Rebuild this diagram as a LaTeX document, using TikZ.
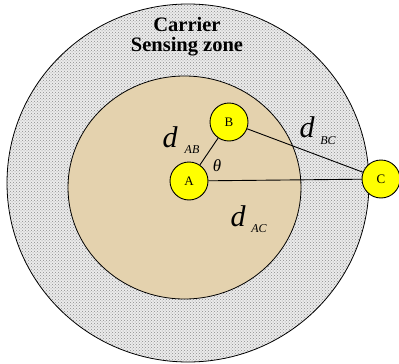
\documentclass[tikz,border=0pt]{standalone}
\usepackage{fontspec}
\setmainfont{Liberation Serif}
\usetikzlibrary{patterns}
\definecolor{sand}{RGB}{228,210,174}
\definecolor{nodey}{RGB}{255,255,0}
\tikzset{
  station/.style={circle, draw=black, line width=0.9pt, fill=nodey, minimum size=38pt, inner sep=0pt, font=\fontsize{13}{13}\selectfont},
  link/.style={draw=black, line width=0.9pt},
  dlab/.style={font=\fontsize{30}{30}\selectfont\itshape, inner sep=0pt},
  sublab/.style={font=\fontsize{12}{12}\selectfont\itshape, inner sep=0pt},
  zone/.style={font=\fontsize{20.5}{22}\selectfont\bfseries, align=center, inner sep=0pt}
}
\begin{document}
\begin{tikzpicture}[x=1pt,y=-1pt]
\useasboundingbox (0,0) rectangle (399,364);
% outer carrier sensing zone
\fill[black!8] (188,183) ellipse [x radius=181, y radius=179];
\fill[pattern=crosshatch dots, pattern color=black!45] (188,183) ellipse [x radius=181, y radius=179];
\draw[line width=0.8pt] (188,183) ellipse [x radius=181, y radius=179];
% inner zone
\fill[sand] (184.5,187.5) ellipse [x radius=116.5, y radius=111.5];
\draw[line width=0.8pt] (184.5,187.5) ellipse [x radius=116.5, y radius=111.5];
% title
\node[zone] (title) at (187,37) {Carrier\\[-2pt]Sensing zone};
% stations
\node[station] (A) at (189,181) {A};
\node[station] (B) at (229,122) {B};
\node[station] (C) at (381,179) {C};
\draw[link] (A) -- (B);
\draw[link] (A) -- (C);
\draw[link] (B) -- (C);
% labels
\node[dlab] (dab) at (170,137) {d};
\node[sublab] (ab) at (192,150) {AB};
\node[dlab] (dbc) at (307,127) {d};
\node[sublab] (bc) at (328,141) {BC};
\node[dlab] (dac) at (238,216) {d};
\node[sublab] (ac) at (259,229) {AC};
\node[font=\fontsize{17}{17}\selectfont\itshape, inner sep=0pt] (theta) at (217,166) {θ};
\end{tikzpicture}
\end{document}
